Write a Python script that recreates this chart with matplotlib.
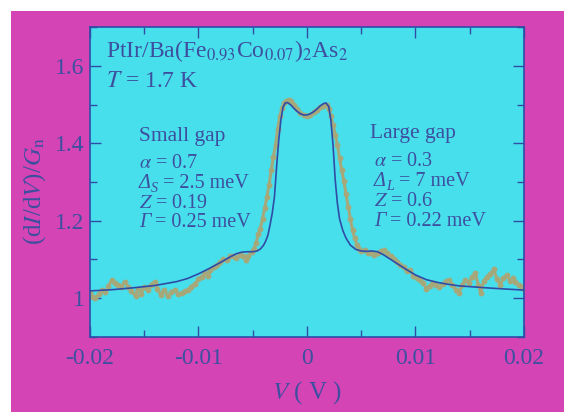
import numpy as np
import matplotlib
matplotlib.use("Agg")
import matplotlib.pyplot as plt
from matplotlib.patches import Rectangle
from matplotlib.ticker import MultipleLocator

# ---- data (bias in mV, normalized conductance) ----
meas_mV = [-20.0, -19.7, -19.5, -19.2, -18.9, -18.6, -18.3, -18.0, -17.7, -17.4,
           -17.1, -16.8, -16.5, -16.2, -15.8, -15.6, -15.3, -15.0, -14.7, -14.4,
           -14.0, -13.8, -13.5, -13.2, -12.8, -12.5, -12.2, -11.9, -11.5, -11.2,
           -11.0, -10.7, -10.3, -10.0, -9.7, -9.4, -9.1, -8.9, -8.6, -8.3,
           -8.0, -7.7, -7.4, -7.1, -6.8, -6.5, -6.2, -5.9, -5.6, -5.4,
           -5.1, -4.9, -4.7, -4.5, -4.3, -4.1, -3.9, -3.7, -3.5, -3.3,
           -3.1, -2.9, -2.7, -2.5, -2.3, -2.1, -1.9, -1.7, -1.5, -1.2,
           -0.9, -0.6, -0.3, 0.0, 0.3, 0.6, 0.9, 1.2, 1.5, 1.8,
           2.0, 2.2, 2.4, 2.6, 2.8, 3.0, 3.2, 3.4, 3.6, 3.8,
           4.0, 4.2, 4.4, 4.6, 4.8, 5.0, 5.3, 5.6, 5.9, 6.2,
           6.5, 6.8, 7.1, 7.4, 7.7, 8.0, 8.3, 8.6, 8.9, 9.2,
           9.5, 9.8, 10.1, 10.4, 10.7, 11.0, 11.3, 11.6, 11.9, 12.2,
           12.5, 12.8, 13.1, 13.4, 13.7, 14.0, 14.3, 14.6, 14.9, 15.2,
           15.5, 15.8, 16.0, 16.3, 16.6, 16.9, 17.2, 17.5, 17.8, 18.1,
           18.4, 18.7, 19.0, 19.2, 19.5, 19.8, 20.0]
meas_G = [1.013, 1.003, 1.000, 1.010, 1.021, 1.015, 1.032, 1.047, 1.040, 1.034,
          1.030, 1.043, 1.030, 1.020, 1.005, 1.025, 1.012, 1.030, 1.022, 1.035,
          1.043, 1.025, 1.008, 1.022, 1.005, 1.015, 1.021, 1.012, 1.013, 1.020,
          1.021, 1.030, 1.038, 1.050, 1.056, 1.064, 1.058, 1.072, 1.080, 1.085,
          1.094, 1.100, 1.098, 1.108, 1.110, 1.104, 1.112, 1.108, 1.098, 1.110,
          1.120, 1.128, 1.142, 1.165, 1.180, 1.205, 1.232, 1.262, 1.292, 1.330,
          1.365, 1.395, 1.438, 1.470, 1.492, 1.503, 1.510, 1.512, 1.508, 1.500,
          1.488, 1.478, 1.472, 1.471, 1.474, 1.480, 1.487, 1.493, 1.497, 1.498,
          1.488, 1.470, 1.447, 1.422, 1.396, 1.362, 1.330, 1.302, 1.268, 1.235,
          1.204, 1.175, 1.155, 1.138, 1.128, 1.122, 1.124, 1.118, 1.116, 1.112,
          1.118, 1.121, 1.124, 1.116, 1.108, 1.100, 1.094, 1.086, 1.080, 1.070,
          1.074, 1.058, 1.051, 1.047, 1.040, 1.025, 1.032, 1.040, 1.034, 1.030,
          1.036, 1.044, 1.048, 1.035, 1.022, 1.013, 1.035, 1.048, 1.040, 1.055,
          1.064, 1.035, 1.013, 1.045, 1.056, 1.062, 1.075, 1.050, 1.034, 1.052,
          1.060, 1.045, 1.052, 1.043, 1.035, 1.028, 1.025]

fit_mV = [-20.0, -18.0, -16.0, -14.0, -12.0, -11.0, -10.0, -9.0, -8.0, -7.0,
          -6.5, -6.0, -5.5, -5.0, -4.6, -4.3, -4.0, -3.8, -3.6, -3.4,
          -3.2, -3.0, -2.8, -2.6, -2.4, -2.2, -2.0, -1.8, -1.5, -1.2,
          -0.9, -0.6, -0.3, 0.0, 0.3, 0.6, 0.9, 1.2, 1.5, 1.75,
          2.0, 2.2, 2.4, 2.6, 2.8, 3.0, 3.3, 3.6, 4.0, 4.5,
          5.0, 5.5, 6.0, 6.5, 7.0, 7.5, 8.0, 9.0, 10.0, 11.0,
          12.0, 13.0, 14.0, 15.0, 17.0, 20.0]
fit_G = [1.019, 1.022, 1.027, 1.033, 1.043, 1.051, 1.063, 1.077, 1.092, 1.108,
         1.115, 1.119, 1.120, 1.120, 1.122, 1.127, 1.137, 1.148, 1.163, 1.190,
         1.220, 1.262, 1.340, 1.410, 1.462, 1.494, 1.504, 1.505, 1.499, 1.490,
         1.482, 1.476, 1.473, 1.473, 1.476, 1.481, 1.488, 1.496, 1.502, 1.504,
         1.495, 1.460, 1.395, 1.306, 1.245, 1.205, 1.175, 1.155, 1.137, 1.126,
         1.122, 1.121, 1.122, 1.120, 1.113, 1.104, 1.095, 1.077, 1.060, 1.048,
         1.041, 1.036, 1.032, 1.030, 1.026, 1.021]

xticks = [-0.02, -0.01, 0, 0.01, 0.02]
xticklabels = ["-0.02", "-0.01", "0", "0.01", "0.02"]
yticks = [1.0, 1.2, 1.4, 1.6]
yticklabels = ["1", "1.2", "1.4", "1.6"]

# ---- style ----
MAGENTA = "#d444b4"
CYAN = "#48dfec"
TXT = "#3d4f9f"
DATA_C = "#a6a87a"
FIT_C = "#2f4ca6"

plt.rcParams["font.family"] = ["Liberation Serif", "DejaVu Serif"]
plt.rcParams["mathtext.fontset"] = "stix"

W, H = 564, 412
fig = plt.figure(figsize=(W / 100, H / 100), dpi=100, facecolor="white")
fig.patches.append(Rectangle((11 / W, 0), 1, (H - 11) / H, transform=fig.transFigure,
                             facecolor=MAGENTA, edgecolor="none", zorder=-10))

ax = fig.add_axes([90 / W, 1 - 337 / H, (524 - 90) / W, (337 - 27) / H])
ax.set_zorder(1)
ax.set_facecolor(CYAN)

V_meas = np.array(meas_mV) * 1e-3
V_fit = np.array(fit_mV) * 1e-3
ax.plot(V_meas, meas_G, color=DATA_C, lw=2.2, marker="o", ms=3.2, mec=DATA_C, mfc=DATA_C, zorder=2)
ax.plot(V_fit, fit_G, color=FIT_C, lw=1.2, zorder=3)

ax.set_xlim(-0.02, 0.02)
ax.set_ylim(0.9, 1.7)
ax.set_xticks(xticks)
ax.set_xticklabels(xticklabels)
ax.set_yticks(yticks)
ax.set_yticklabels(yticklabels)
ax.xaxis.set_minor_locator(MultipleLocator(0.005))
ax.yaxis.set_minor_locator(MultipleLocator(0.1))
ax.tick_params(which="both", direction="in", top=True, right=True, colors=FIT_C,
               labelcolor=TXT, labelsize=17)
ax.tick_params(which="major", length=8, width=1)
ax.tick_params(which="minor", length=5, width=1)
ax.tick_params(axis="x", pad=8)
ax.tick_params(axis="y", pad=4)
for s in ax.spines.values():
    s.set_color(FIT_C)
    s.set_linewidth(1.2)

ax.set_xlabel(r"$V$ ( V )", color=TXT, fontsize=18)
ax.set_ylabel(r"(d$I$/d$V$)/$G_{\rm n}$", color=TXT, fontsize=18)
ax.xaxis.set_label_coords(0.5, -0.135)
ax.yaxis.set_label_coords(-0.097, 0.47)

renderer = fig.canvas.get_renderer()


def seq_text(xp, yb, parts):
    """parts: (string, fontsize, fontstyle, dy_px) drawn left to right on baseline yb (px from top)."""
    x = xp
    for s, fs, style, dy in parts:
        t = fig.text(x / W, 1 - (yb + dy) / H, s, fontsize=fs, color=TXT,
                     fontstyle=style, ha="left", va="baseline", zorder=5)
        x += t.get_window_extent(renderer).width


seq_text(106, 57, [(r"PtIr/Ba(Fe$_{0.93}$Co$_{0.07}$)$_2$As$_2$", 17, "normal", 0)])
seq_text(106, 87, [(r"$T$ = 1.7 K", 17, "normal", 0)])

FS = 14.5
seq_text(139, 141, [("Small gap", 15.5, "normal", 0)])
seq_text(139, 168, [(r"$\alpha$ = 0.7", FS, "normal", 0)])
seq_text(139, 188, [("Δ", FS, "italic", 0), ("S", FS * 0.7, "italic", 4), (" = 2.5 meV", FS, "normal", 0)])
seq_text(139, 208, [(r"$Z$ = 0.19", FS, "normal", 0)])
seq_text(139, 227, [("Γ", FS, "italic", 0), (" = 0.25 meV", FS, "normal", 0)])

seq_text(370, 138, [("Large gap", 15.5, "normal", 0)])
seq_text(374, 166, [(r"$\alpha$ = 0.3", FS, "normal", 0)])
seq_text(374, 186, [("Δ", FS, "italic", 0), ("L", FS * 0.7, "italic", 4), (" = 7 meV", FS, "normal", 0)])
seq_text(374, 206, [(r"$Z$ = 0.6", FS, "normal", 0)])
seq_text(374, 226, [("Γ", FS, "italic", 0), (" = 0.22 meV", FS, "normal", 0)])

fig.savefig("out.png", dpi=100, facecolor=fig.get_facecolor())
